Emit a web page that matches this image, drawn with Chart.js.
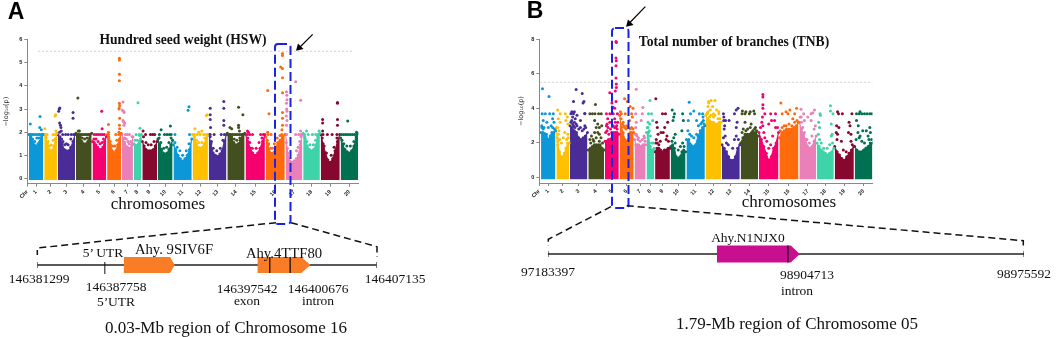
<!DOCTYPE html>
<html>
<head>
<meta charset="utf-8">
<script src="https://cdn.jsdelivr.net/npm/chart.js@4/dist/chart.umd.js"></script>
<style>
  html, body { margin: 0; padding: 0; background: #fff; }
  #page { position: relative; width: 1059px; height: 337px; overflow: hidden; }
  canvas { position: absolute; }
  svg { position: absolute; left: 0; top: 0; }
  .t { position: absolute; transform: translate(-50%, -50%); white-space: nowrap; color: #111; font-family: "Liberation Serif", serif; font-size: 13.5px; line-height: 1; }
  .big { font-size: 17px; }
  .cap { font-size: 17px; }
  .head { font-weight: bold; font-size: 13.6px; }
  .gene { font-size: 14.7px; }
  .letter { font-family: "Liberation Sans", sans-serif; font-weight: bold; font-size: 23px; color: #000; }
</style>
</head>
<body>
<div id="page">
  <canvas id="hswChart" width="370" height="180" style="left:0;top:30px"></canvas>
  <canvas id="tnbChart" width="375" height="180" style="left:515px;top:30px"></canvas>
  <canvas id="trackA" width="350" height="40" style="left:32px;top:245px"></canvas>
  <canvas id="trackB" width="486" height="40" style="left:543px;top:234px"></canvas>

  <svg width="1059" height="337" fill="none">
    <rect x="275" y="44" width="15.5" height="180" rx="3" stroke="#1a22e6" stroke-width="2" stroke-dasharray="9 4"/>
    <rect x="612" y="28" width="16.5" height="180" rx="3" stroke="#1a22e6" stroke-width="2" stroke-dasharray="9 4"/>
    <g stroke="#111" stroke-width="1.5" stroke-dasharray="7 4">
      <path d="M276 222.7 L37.3 248 V255"/>
      <path d="M291 222.7 L377 246.7 V257"/>
      <path d="M611 206.7 L548.3 239.3 V246"/>
      <path d="M626.7 205.7 L1023.3 240.7 V247"/>
    </g>
    <g stroke="#000" stroke-width="1.2">
      <path d="M312.7 34.3 L299 48"/>
      <path d="M645.3 6.7 L629 23.5"/>
    </g>
    <path d="M296 50.7 L298 43.5 L303.5 49 Z" fill="#000"/>
    <path d="M626 26.7 L628 19.5 L633.5 25 Z" fill="#000"/>
  </svg>

  <div class="t letter" style="left:16px;top:11px">A</div>
  <div class="t letter" style="left:535px;top:10px">B</div>
  <div class="t head" style="left:183px;top:40px">Hundred seed weight (HSW)</div>
  <div class="t head" style="left:734px;top:42px">Total number of branches (TNB)</div>
  <div class="t big" style="left:158px;top:203px">chromosomes</div>
  <div class="t big" style="left:789px;top:201px">chromosomes</div>

  <div class="t" style="left:103px;top:253px">5’ UTR</div>
  <div class="t gene" style="left:174px;top:249px">Ahy. 9SIV6F</div>
  <div class="t gene" style="left:284px;top:253px">Ahy.4TTF80</div>
  <div class="t" style="left:39px;top:279px">146381299</div>
  <div class="t" style="left:116px;top:287px">146387758</div>
  <div class="t" style="left:116px;top:302px">5’UTR</div>
  <div class="t" style="left:247px;top:289px">146397542</div>
  <div class="t" style="left:247px;top:301px">exon</div>
  <div class="t" style="left:318px;top:289px">146400676</div>
  <div class="t" style="left:318px;top:301px">intron</div>
  <div class="t" style="left:395px;top:279px">146407135</div>
  <div class="t cap" style="left:226px;top:327px">0.03-Mb region of Chromosome 16</div>

  <div class="t" style="left:748px;top:238px">Ahy.N1NJX0</div>
  <div class="t" style="left:548px;top:272px">97183397</div>
  <div class="t" style="left:807px;top:275px">98904713</div>
  <div class="t" style="left:797px;top:291px">intron</div>
  <div class="t" style="left:1024px;top:274px">98975592</div>
  <div class="t cap" style="left:797px;top:323px">1.79-Mb region of Chromosome 05</div>
</div>

<script>
const chrLen = [116,103,140,127,111,113,89,62,119,119,148,124,143,140,157,154,135,135,154,143];
const chrGap = 7;
const chrNames = ['Chr','1','2','3','4','5','6','7','8','9','10','11','12','13','14','15','16','17','18','19','20'];
const chrColors = ['#0b97d8','#ffc000','#4a2c96','#434f1e','#f5006e','#ff6a0d','#ea7fba','#3fd3a9','#86082e','#007050',
                   '#0b97d8','#ffc000','#4a2c96','#434f1e','#f5006e','#ff6a0d','#ea7fba','#3fd3a9','#86082e','#007050'];

const hswTicks = [0,1,2,3,4,5,6];
const tnbTicks = [0,2,4,6,8];
const threshold = 5.5;
const hswRowY = 1.9;
const tnbRowY = 3.68;

// top of the solid cloud per chromosome, read left to right
const hswCloud = [
  [1.9,1.8,1.6,1.45,1.4,1.5,1.6,1.8,1.9],
  [1.9,1.8,1.5,1.25,1.2,1.2,1.4,1.7,1.95],
  [1.9,1.8,1.5,1.25,1.2,1.2,1.35,1.6,1.9],
  [1.95,1.9,1.8,1.6,1.5,1.5,1.6,1.9,1.95],
  [1.6,1.55,1.45,1.35,1.25,1.25,1.35,1.6,1.8],
  [1.9,1.7,1.45,1.2,1.1,1.2,1.45,1.7,1.95],
  [1.9,1.7,1.55,1.4,1.35,1.3,1.3,1.45,1.8],
  [1.5,1.45,1.4,1.4,1.45,1.5,1.6,1.7,1.9],
  [1.6,1.4,1.25,1.2,1.2,1.2,1.25,1.4,1.6],
  [1.7,1.45,1.25,1.1,1.05,1.1,1.25,1.45,1.65],
  [1.45,1.25,1.0,0.85,0.75,0.85,1.0,1.25,1.7],
  [1.9,1.7,1.5,1.35,1.3,1.35,1.5,1.75,1.9],
  [1.9,1.5,1.1,1.0,0.95,1.05,1.2,1.6,1.9],
  [1.95,1.9,1.7,1.55,1.45,1.5,1.65,1.9,1.95],
  [1.9,1.6,1.3,1.1,1.0,1.1,1.3,1.6,1.9],
  [1.8,1.45,1.1,1.1,1.3,1.55,1.65,1.8,1.9],
  [1.9,1.1,0.75,0.7,0.75,0.85,1.0,1.45,1.9],
  [1.95,1.7,1.4,1.25,1.2,1.25,1.45,1.75,1.95],
  [1.9,1.5,1.1,0.8,0.7,0.85,1.2,1.6,1.9],
  [1.75,1.45,1.25,1.15,1.1,1.2,1.4,1.7,1.95]
];

const tnbCloud = [
  [2.6,2.6,2.55,2.5,2.2,2.4,2.6,2.6,2.7],
  [2.9,1.9,1.5,1.2,1.2,1.4,1.7,2.0,2.0],
  [3.0,2.9,2.7,2.6,2.3,2.2,2.3,2.4,2.6],
  [1.6,1.7,1.8,1.9,1.9,1.9,1.9,1.7,1.6],
  [2.1,2.1,2.2,2.2,2.3,2.6,2.6,2.6,2.5],
  [3.6,2.9,2.6,2.2,2.1,2.2,2.6,2.6,2.6],
  [2.2,1.9,1.9,1.9,1.8,1.8,1.9,1.9,1.9],
  [2.6,2.6,2.6,2.0,1.8,1.6,1.6,1.6,1.7],
  [1.5,1.7,1.7,1.6,1.5,1.6,1.6,1.7,1.7],
  [1.8,1.9,1.7,1.2,1.1,1.2,1.5,1.6,1.5],
  [2.2,2.2,1.9,1.8,1.9,2.4,2.7,2.9,3.0],
  [3.6,3.4,3.3,3.2,3.2,3.1,3.1,3.2,3.2],
  [1.9,1.7,1.5,1.2,1.0,1.0,1.2,1.7,1.9],
  [2.0,2.3,2.5,2.5,2.5,2.6,2.6,2.6,2.4],
  [2.6,2.2,1.8,1.4,1.0,1.2,1.7,2.0,2.6],
  [2.3,2.6,2.7,2.8,2.8,2.8,2.9,3.0,3.2],
  [3.2,2.8,2.5,2.2,1.8,1.7,1.8,2.1,2.4],
  [2.0,1.8,1.6,1.5,1.4,1.3,1.4,1.5,1.7],
  [1.8,1.5,1.3,1.1,1.0,1.2,1.4,1.6,1.8],
  [1.8,1.6,1.5,1.5,1.6,1.7,1.8,2.0,2.0]
];

// single SNPs above the cloud: [% along chromosome, -log10(p)]
const hswHits = [
  [[9,2.35],[77,2.68],[75,2.2],[86,2.1]],
  [[5,2.15],[85,2.7],[90,2.75],[92,2.05]],
  [[8,3.0],[12,3.05],[5,2.9],[10,2.4],[15,2.3],[18,2.2],[88,2.85],[88,2.6],[20,2.05]],
  [[12,3.48],[15,2.05],[22,2.05]],
  [[67,2.9],[70,2.15]],
  [[10,2.33],[88,5.2],[88,5.12],[88,4.5],[88,4.22],[88,3.25],[90,3.15],[86,3.05],[85,3.0],[90,2.6],[88,2.3],[10,2.0],[90,2.15],[85,2.0]],
  [[10,3.3],[5,2.95],[15,2.9],[20,2.85],[10,2.5],[15,2.45],[25,2.4],[18,2.3]],
  [[55,3.27],[80,2.17]],
  [[5,2.05]],
  [[22,2.1],[85,2.27]],
  [[85,3.1],[80,2.95]],
  [[15,2.15],[90,2.72],[95,2.75],[40,2.0],[60,2.05]],
  [[8,3.03],[85,3.33],[85,3.03],[8,2.75],[8,2.55],[85,2.5],[85,2.3],[10,2.2]],
  [[15,2.2],[25,2.15],[65,3.08],[65,2.3],[65,2.2],[90,2.75],[70,2.05]],
  [[10,2.05],[15,2.0]],
  [[10,3.8],[17,2.8],[88,5.4],[88,5.32],[78,4.82],[88,4.75],[88,4.35],[88,3.7],[88,2.85],[88,2.6],[88,2.3],[10,2.0],[85,2.1]],
  [[60,4.18],[5,3.75],[7,3.6],[8,3.4],[5,3.25],[90,3.38],[6,3.0],[8,2.9],[4,2.7],[8,2.5],[5,2.3],[90,2.05]],
  [[95,2.05],[20,2.05]],
  [[10,2.55],[88,3.28],[88,3.25],[10,2.4],[88,2.55],[88,2.3],[10,2.05]],
  [[40,2.48],[90,2.0]]
];

const hswMid = [
  [[10,1.7],[25,1.7],[40,1.6],[55,1.75],[70,1.75],[85,1.7]],
  [[15,1.75],[30,1.6],[40,1.4],[55,1.45],[70,1.65],[85,1.7]],
  [[10,2.0],[22,1.7],[30,1.6],[40,1.45],[50,1.5],[60,1.45],[75,1.7]],
  [[25,1.8],[40,1.75],[55,1.7],[70,1.75]],
  [[10,1.7],[25,1.7],[40,1.6],[55,1.5],[70,1.55],[80,1.7]],
  [[12,1.8],[22,1.6],[40,1.4],[55,1.4],[70,1.65]],
  [[25,1.75],[40,1.7],[55,1.6],[65,1.5],[80,1.6],[92,1.8]],
  [[15,1.65],[45,1.65],[75,1.85]],
  [[8,1.8],[25,1.55],[40,1.45],[60,1.45],[80,1.6]],
  [[8,1.75],[20,1.55],[40,1.3],[60,1.35],[75,1.55],[90,1.75]],
  [[8,1.55],[20,1.35],[35,1.2],[50,1.0],[70,1.2],[85,1.5]],
  [[12,1.8],[25,1.65],[40,1.55],[60,1.55],[80,1.75]],
  [[8,1.8],[15,1.6],[25,1.3],[45,1.2],[65,1.3],[80,1.65]],
  [[25,1.8],[40,1.7],[55,1.65],[72,1.75]],
  [[12,1.75],[22,1.55],[35,1.3],[55,1.3],[70,1.55],[85,1.75]],
  [[8,1.65],[15,1.5],[25,1.3],[35,1.3],[45,1.5],[60,1.75],[75,1.85]],
  [[4,1.55],[10,1.3],[65,1.2],[75,1.35],[85,1.6],[92,1.8]],
  [[10,1.8],[22,1.6],[40,1.45],[60,1.45],[75,1.65],[88,1.8]],
  [[8,1.75],[18,1.4],[30,1.1],[55,1.0],[70,1.35],[85,1.75]],
  [[8,1.65],[18,1.5],[35,1.4],[55,1.4],[75,1.6],[88,1.8]]
];

// dots sitting on the visible row near the top of the cloud: % along chromosome
const hswRow = [
  [4,14,25,37,50,63,74,86,96],
  [8,22,70,88],
  [28,45,60,78,92],
  [4,12,20,30,40,50,60,70,80,90],
  [12,26,40,55,70,85],
  [10,62,84],
  [32,50,68],
  [30,70],
  [22,55,70,84],
  [10,45,62,78,90],
  [8,88],
  [12,30,50,72,88],
  [8,30,70,88],
  [4,12,20,30,40,50,60,70,80,90],
  [10,22,36,78,92],
  [12,28,84],
  [6,60,78,92],
  [8,30,55,75,88],
  [12,35,60,85],
  [6,18,30,42,54,66,78,90]
];

const tnbHits = [
  [[10,5.13],[55,4.68],[80,3.4],[90,3.2],[15,3.3],[5,3.0],[20,2.9],[70,3.0]],
  [[10,3.9],[15,3.4],[30,3.2],[75,3.3],[90,3.1],[10,2.9],[90,2.5],[15,2.5],[85,3.5]],
  [[35,5.08],[20,4.4],[70,4.85],[80,4.4],[75,4.3],[10,3.8],[25,3.8],[40,3.6],[85,3.7],[60,3.3],[25,3.2],[85,3.0],[15,3.5],[35,3.1]],
  [[45,4.22],[40,3.3],[60,3.1],[50,2.9],[70,2.5],[70,2.9],[85,3.0]],
  [[35,4.9],[80,7.85],[82,7.8],[80,6.9],[82,6.75],[80,6.45],[80,5.75],[82,5.4],[82,5.2],[75,5.0],[80,4.4],[50,4.3],[60,4.05],[70,4.0],[70,3.4],[75,3.2],[85,3.0],[20,3.4],[15,3.1]],
  [[35,4.55],[55,4.4],[75,4.1],[95,4.0],[70,3.3],[90,3.5],[50,3.0],[25,3.2]],
  [[15,5.1],[75,4.05],[15,3.2],[60,3.3],[35,2.3],[90,2.3],[15,2.5]],
  [[45,4.45],[80,3.3],[40,3.1],[20,2.9]],
  [[5,4.55],[10,3.2],[15,2.9],[40,2.6],[75,2.2],[20,2.5],[85,3.2],[5,2.0]],
  [[10,3.9],[20,3.5],[85,3.3],[15,3.3],[75,2.7],[30,2.5]],
  [[40,3.85],[15,4.35],[90,3.5],[10,3.3],[55,3.3],[85,3.2]],
  [[18,4.4],[20,4.3],[35,4.45],[60,4.45],[15,4.1],[45,4.1],[30,3.9],[70,3.9],[85,3.8]],
  [[10,3.5],[10,3.3],[80,3.9],[90,4.0],[20,3.3],[85,3.2],[15,3.0],[80,2.9],[40,3.3]],
  [[10,3.85],[30,3.8],[55,3.8],[75,3.85],[25,3.2],[60,3.1],[85,2.9]],
  [[20,4.8],[20,4.65],[20,4.2],[20,4.0],[18,3.5],[20,3.0],[80,3.3],[65,3.3],[50,3.1]],
  [[8,4.3],[35,3.8],[55,3.9],[90,4.0],[70,3.4]],
  [[10,3.95],[10,3.5],[30,3.3],[50,3.5],[80,3.75],[90,3.9],[70,3.3]],
  [[80,4.15],[80,3.85],[20,3.6],[10,3.2],[15,2.9],[85,3.1],[90,2.5]],
  [[15,3.8],[75,3.2],[10,3.0],[15,2.5],[80,3.0],[85,2.5]],
  [[30,3.8],[10,3.3],[20,3.0],[45,2.7],[85,2.9],[25,2.3],[80,2.2]]
];

const tnbMid = [
  [[6,2.9],[14,2.8],[50,2.9],[80,2.9],[92,2.8],[40,3.2]],
  [[8,2.3],[12,2.1],[20,2.7],[25,2.2],[40,2.0],[55,2.3],[65,2.6],[80,2.2],[92,2.3]],
  [[5,3.2],[10,3.3],[15,3.1],[20,3.0],[28,2.9],[30,3.4],[40,3.0],[50,2.8],[60,2.9],[70,2.7],[80,2.8],[90,2.9]],
  [[10,2.2],[20,2.4],[30,2.2],[40,2.6],[50,2.3],[60,2.6],[70,2.1],[80,2.3],[90,2.0],[15,2.0],[35,2.1]],
  [[5,2.6],[10,3.0],[15,2.7],[22,2.9],[28,2.5],[35,3.2],[40,2.8],[48,2.6],[60,3.0],[70,2.9],[78,2.9],[88,2.8],[92,3.2]],
  [[5,3.8],[10,3.4],[20,3.1],[28,3.0],[35,2.9],[45,2.8],[60,2.9],[75,2.8],[85,2.9],[95,2.8]],
  [[5,2.5],[10,2.9],[20,2.4],[30,2.2],[50,2.1],[70,2.2],[85,2.4],[95,2.1]],
  [[10,2.9],[20,3.2],[35,2.7],[50,2.4],[70,2.0],[85,2.0]],
  [[8,2.2],[15,2.0],[25,1.9],[35,2.1],[55,2.6],[65,2.9],[80,2.4],[90,2.1]],
  [[8,2.1],[20,2.3],[30,2.0],[50,1.6],[65,1.8],[80,2.0],[90,1.8]],
  [[8,2.7],[18,2.5],[28,2.4],[40,2.3],[55,2.5],[65,3.0],[78,3.1],[92,3.3],[96,3.1]],
  [[8,3.7],[15,3.8],[25,3.5],[35,3.6],[50,3.5],[60,3.6],[80,3.4],[92,3.4]],
  [[8,2.3],[12,2.8],[18,2.4],[25,2.0],[35,1.9],[60,1.7],[70,2.2],[80,2.4],[92,2.2]],
  [[8,2.6],[15,2.8],[30,2.7],[40,2.8],[55,2.9],[70,2.7],[80,2.8],[92,2.7]],
  [[8,2.9],[15,3.2],[25,2.6],[30,2.3],[40,2.1],[50,1.7],[60,1.9],[70,2.4],[85,2.9],[95,2.9]],
  [[5,2.7],[15,2.9],[25,3.0],[35,3.0],[50,3.1],[65,3.0],[80,3.2],[92,3.3]],
  [[5,3.5],[12,3.2],[20,2.9],[30,2.6],[45,2.2],[60,2.0],[75,2.4],[88,2.8],[95,3.0]],
  [[8,2.5],[15,2.2],[25,2.0],[40,1.7],[60,1.7],[75,1.9],[85,2.4],[92,2.0]],
  [[8,2.6],[12,2.2],[22,2.9],[35,2.1],[45,1.6],[60,1.5],[72,2.6],[85,2.1],[92,1.9]],
  [[8,2.2],[18,2.6],[30,2.4],[40,2.1],[55,2.0],[65,2.7],[75,2.4],[88,2.6],[95,2.2]]
];

const tnbRow = [
  [8,30,60,85],
  [30,70],
  [5,20,85],
  [10,26,42,65,82],
  [10,35,60,90],
  [12,40,85],
  [10,70],
  [25,65],
  [50,70],
  [25,80],
  [22,70,88],
  [10,50,85],
  [8,70],
  [8,25,50,80],
  [30,60,85],
  [15,45,80],
  [25,70],
  [18,95],
  [20,40,90],
  [10,25,40,55,70,85,97]
];

// gene tracks are schematic, not to genomic scale: % along the drawn line
const trackAGenes = [[25.5,39.1,40.5],[64.9,77.8,80.5]];
const trackAMarks = [68.5,74.5];
const trackATicks = [0,19.9,100];
const trackBGenes = [[35.5,51,52.9]];
const trackBMarks = [50.4];
const trackBTicks = [0,100];

// cumulative start of each chromosome
const chrStart = [];
let pos = 0;
chrLen.forEach(len => {
    chrStart.push(pos);
    pos += len + chrGap;
});
const xEnd = pos - chrGap;

const manhattan = (id, cloud, hits, mid, row, rowY, yTicks, yMin, axisLeft, axisRight, top, axisBottom, lineFrom, lineTo) => {
    const datasets = [];
    cloud.forEach((tops, i) => {
        datasets.push({
            data: tops.map((v, k) => ({ x: chrStart[i] + chrLen[i] * k / (tops.length - 1), y: v })),
            showLine: true,
            fill: { value: yMin * 0.3 },
            backgroundColor: chrColors[i],
            borderColor: chrColors[i],
            borderWidth: 1,
            pointRadius: 1.5,
            pointBackgroundColor: chrColors[i],
            pointBorderWidth: 0,
            order: 2
        });
    });
    hits.forEach((list, i) => {
        const pts = list.concat(mid[i], row[i].map(p => [p, rowY]));
        datasets.push({
            data: pts.map(p => ({ x: chrStart[i] + chrLen[i] * p[0] / 100, y: p[1] })),
            pointRadius: 1.5,
            pointBackgroundColor: chrColors[i],
            pointBorderWidth: 0,
            order: 1
        });
    });
    datasets.push({
        data: [{ x: lineFrom, y: threshold }, { x: lineTo, y: threshold }],
        showLine: true,
        borderColor: '#c4c4c4',
        borderWidth: 0.8,
        borderDash: [2, 2],
        pointRadius: 0,
        order: 0
    });

    const canvas = document.getElementById(id);
    const xTicks = [-14].concat(chrLen.map((len, i) => chrStart[i] + len / 2));

    new Chart(canvas, {
        type: 'scatter',
        data: { datasets },
        options: {
            responsive: false,
            animation: false,
            layout: { padding: { top: top, right: canvas.width - axisRight, left: 0, bottom: 0 } },
            plugins: { legend: { display: false }, tooltip: { enabled: false } },
            scales: {
                x: {
                    min: -14,
                    max: xEnd,
                    grid: { display: true, drawOnChartArea: false, drawTicks: true, tickLength: 3, color: '#888' },
                    border: { display: true, color: '#888' },
                    ticks: {
                        autoSkip: false,
                        minRotation: 45,
                        maxRotation: 45,
                        padding: 2,
                        font: { family: 'Liberation Sans', size: 5.5, weight: 'bold' },
                        color: '#222',
                        callback: (v, i) => chrNames[i]
                    },
                    afterBuildTicks: s => { s.ticks = xTicks.map(v => ({ value: v })); },
                    afterFit: s => { s.height = canvas.height - axisBottom; }
                },
                y: {
                    min: yMin,
                    max: yTicks[yTicks.length - 1],
                    grid: { display: true, drawOnChartArea: false, drawTicks: true, tickLength: 3, color: '#888' },
                    border: { display: true, color: '#888' },
                    title: {
                        display: true,
                        text: '−log₁₀(p)',
                        font: { family: 'DejaVu Sans', size: 6.5 },
                        color: '#222',
                        padding: { top: 2, bottom: 0 }
                    },
                    ticks: {
                        padding: 2,
                        font: { family: 'Liberation Sans', size: 5.5, weight: 'bold' },
                        color: '#222'
                    },
                    afterBuildTicks: s => { s.ticks = yTicks.map(v => ({ value: v })); },
                    afterFit: s => { s.width = axisLeft; }
                }
            }
        }
    });
};

const geneTrack = (id, genes, geneColor, marks, ticks, halfHeight, pad) => {
    const datasets = [];
    marks.forEach(m => {
        datasets.push({ data: [{ x: m, y: -halfHeight }, { x: m, y: halfHeight }], showLine: true, borderColor: '#111', borderWidth: 1.3, pointRadius: 0, order: 0 });
    });
    genes.forEach(g => {
        const shape = [[g[0],-halfHeight],[g[1],-halfHeight],[g[2],0],[g[1],halfHeight],[g[0],halfHeight],[g[0],-halfHeight]];
        datasets.push({ data: shape.map(p => ({ x: p[0], y: p[1] })), showLine: true, fill: 'shape', backgroundColor: geneColor, borderColor: geneColor, borderWidth: 0, pointRadius: 0, order: 1 });
    });
    ticks.forEach(m => {
        const below = m > 0 && m < 100 ? 9 : 3;
        datasets.push({ data: [{ x: m, y: -below }, { x: m, y: 3 }], showLine: true, borderColor: '#111', borderWidth: 1, pointRadius: 0, order: 2 });
    });
    datasets.push({ data: [{ x: 0, y: 0 }, { x: 100, y: 0 }], showLine: true, borderColor: '#222', borderWidth: 1.6, pointRadius: 0, order: 2 });

    new Chart(document.getElementById(id), {
        type: 'scatter',
        data: { datasets },
        options: {
            responsive: false,
            animation: false,
            layout: { padding: { left: pad, right: pad, top: 0, bottom: 0 } },
            plugins: { legend: { display: false }, tooltip: { enabled: false } },
            scales: {
                x: { display: false, min: 0, max: 100 },
                y: { display: false, min: -20, max: 20 }
            }
        }
    });
};

manhattan('hswChart', hswCloud, hswHits, hswMid, hswRow, hswRowY, hswTicks, -0.23, 27.3, 358.3, 9.7, 153.7, 72, 2614);
manhattan('tnbChart', tnbCloud, tnbHits, tnbMid, tnbRow, tnbRowY, tnbTicks, -0.31, 24.3, 357.5, 9, 153, -10, xEnd);
geneTrack('trackA', trackAGenes, '#f97c26', trackAMarks, trackATicks, 8, 5.3);
geneTrack('trackB', trackBGenes, '#c70f8f', trackBMarks, trackBTicks, 8.5, 5);
</script>
</body>
</html>
